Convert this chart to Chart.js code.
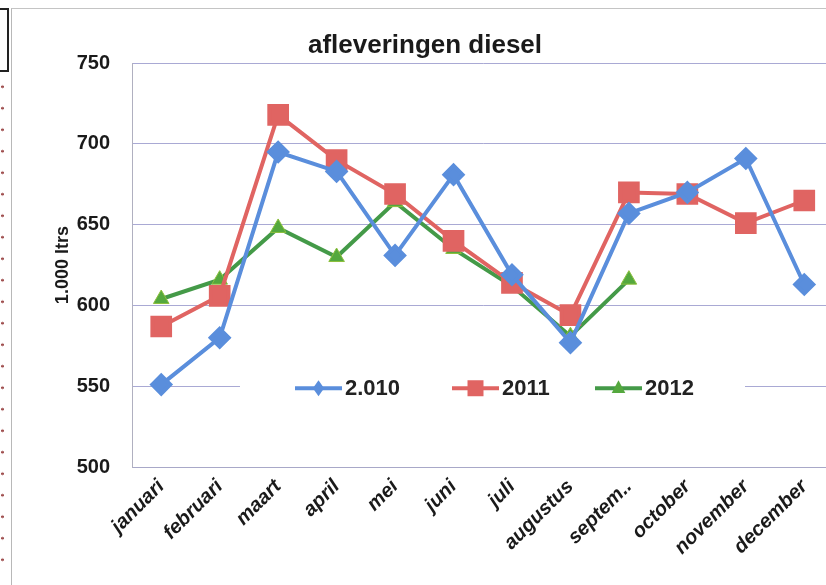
<!DOCTYPE html>
<html>
<head>
<meta charset="utf-8">
<script src="https://cdn.jsdelivr.net/npm/chart.js@4.4.1/dist/chart.umd.min.js"></script>
<style>
  html, body { margin: 0; padding: 0; background: #fff; overflow: hidden; width: 826px; height: 585px; }
  #wrap { position: absolute; left: 0; top: 0; width: 850px; height: 585px; }
  #frame { position: absolute; left: 11px; top: 8px; width: 830px; height: 590px; border-left: 1px solid #b8b8b8; border-top: 1px solid #c4c4c4; }
  #box { position: absolute; left: -3px; top: 8px; width: 8px; height: 60px; border: 2px solid #222; }
  #dots { position: absolute; left: 0px; top: 76px; width: 5px; height: 500px;
    background-image: radial-gradient(circle, #a05050 1.2px, transparent 1.6px);
    background-size: 5px 21.5px; background-repeat: repeat-y; }
</style>
</head>
<body>
<div id="frame"></div>
<div id="box"></div>
<div id="dots"></div>
<div id="wrap"><canvas id="c" width="850" height="585"></canvas></div>
<script>
const categories = ["januari","februari","maart","april","mei","juni","juli","augustus","septem..","october","november","december"];
const series2010 = [551, 580, 695, 683, 631, 681, 619, 577, 657, 670, 691, 613];
const series2011 = [587, 606, 718, 690, 669, 640, 614, 594, 670, 669, 651, 665];
const series2012 = [604, 616, 648, 630, 664, 635, 612, 581, 616, null, null, null];
const seriesLabels = ["2.010", "2011", "2012"];
const yTicks = [500, 550, 600, 650, 700, 750];

const FONT = '"Liberation Sans", Arial, sans-serif';

const legendInPlot = {
  id: 'legendInPlot',
  afterDatasetsDraw(chart, args, opts) {
    const ctx = chart.ctx;
    const y = chart.scales.y.getPixelForValue(opts.value) + 2;
    ctx.save();
    ctx.fillStyle = '#fff';
    ctx.fillRect(opts.boxLeft, y - 16, opts.boxRight - opts.boxLeft, 30);
    ctx.font = opts.font;
    ctx.textBaseline = 'middle';
    chart.data.datasets.forEach((ds, i) => {
      const x0 = opts.starts[i];
      ctx.strokeStyle = ds.borderColor;
      ctx.lineWidth = 4;
      ctx.beginPath(); ctx.moveTo(x0, y); ctx.lineTo(x0 + opts.lineLen, y); ctx.stroke();
      const cx = x0 + opts.lineLen / 2;
      ctx.fillStyle = ds.pointBackgroundColor;
      ctx.beginPath();
      const r = 8;
      if (ds.pointStyle === 'rectRot') {
        ctx.moveTo(cx, y - r); ctx.lineTo(cx + r * 0.7, y); ctx.lineTo(cx, y + r); ctx.lineTo(cx - r * 0.7, y); ctx.closePath();
      } else if (ds.pointStyle === 'rect') {
        ctx.rect(cx - r, y - r, r * 2, r * 2);
      } else {
        ctx.moveTo(cx, y - r); ctx.lineTo(cx + r * 0.85, y + r * 0.6); ctx.lineTo(cx - r * 0.85, y + r * 0.6); ctx.closePath();
      }
      ctx.fill();
      ctx.fillStyle = '#222';
      ctx.fillText(ds.label, x0 + opts.lineLen + 3, y + 1);
    });
    ctx.restore();
  }
};

new Chart(document.getElementById('c'), {
  type: 'line',
  data: {
    labels: categories,
    datasets: [
      { label: seriesLabels[0], data: series2010, borderColor: '#5a8edc', backgroundColor: '#5a8edc',
        pointBackgroundColor: '#5a8edc', pointBorderColor: '#5a8edc', pointStyle: 'rectRot', pointRadius: 9, borderWidth: 4 },
      { label: seriesLabels[1], data: series2011, borderColor: '#e06462', backgroundColor: '#e06462',
        pointBackgroundColor: '#e06462', pointBorderColor: '#e06462', pointStyle: 'rect', pointRadius: 12.5, borderWidth: 4 },
      { label: seriesLabels[2], data: series2012, borderColor: '#449a48', backgroundColor: '#449a48',
        pointBackgroundColor: '#54a83e', pointBorderColor: '#8cbf3c', pointBorderWidth: 1, pointStyle: 'triangle', pointRadius: 9, borderWidth: 4 }
    ]
  },
  options: {
    responsive: false,
    animation: false,
    layout: { padding: 0 },
    plugins: {
      legend: { display: false },
      tooltip: { enabled: false },
      title: { display: true, text: 'afleveringen diesel', color: '#1a1a1a',
        font: { family: FONT, size: 26, weight: 'bold' }, padding: { top: 30, bottom: 2 } },
      legendInPlot: { value: 550, boxLeft: 240, boxRight: 745, starts: [295, 452, 595], lineLen: 47,
        font: 'bold 22px ' + FONT }
    },
    scales: {
      x: {
        offset: true,
        grid: { display: false, drawTicks: false },
        border: { display: true, color: '#a8a8c8', width: 1 },
        ticks: { color: '#1a1a1a', maxRotation: 45, minRotation: 45, padding: 8, autoSkip: false,
          font: { family: FONT, size: 20, weight: 'bold', style: 'italic' } },
        afterFit(scale) { scale.height = 118; scale.paddingLeft = 0; scale.paddingRight = 0; }
      },
      y: {
        min: 500, max: 750,
        afterBuildTicks(scale) { scale.ticks = yTicks.map(v => ({ value: v })); },
        grid: { color: '#a9a9d4', lineWidth: 1, drawTicks: false },
        border: { display: true, color: '#b0b0c0', width: 1 },
        ticks: { color: '#1a1a1a', padding: 22, font: { family: FONT, size: 20, weight: 'bold' } },
        title: { display: true, text: '1.000 ltrs', color: '#1a1a1a', padding: { top: 52, bottom: 0 },
          font: { family: FONT, size: 18, weight: 'bold' } },
        afterFit(scale) { scale.width = 132; scale.paddingTop = 0; scale.paddingBottom = 0; }
      }
    }
  },
  plugins: [legendInPlot]
});
</script>
</body>
</html>
